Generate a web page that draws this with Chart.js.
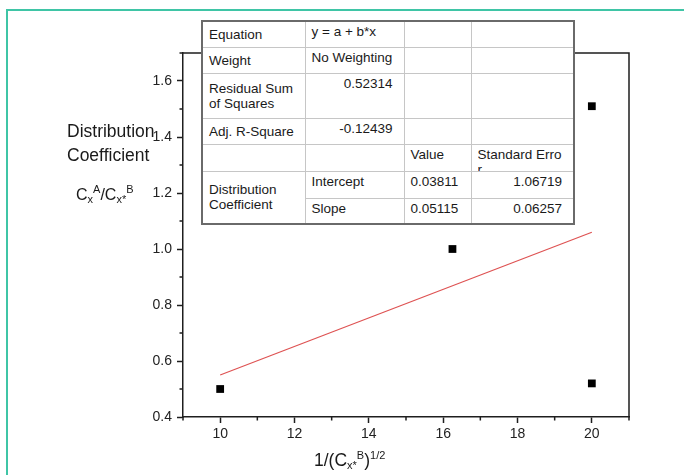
<!DOCTYPE html>
<html>
<head>
<meta charset="utf-8">
<script src="https://cdn.jsdelivr.net/npm/chart.js@4"></script>
<style>
  body { margin: 0; background: #fff; }
  #wrap { position: relative; width: 684px; height: 475px; overflow: hidden; font-family: "Liberation Sans", Arial, sans-serif; color: #1a1a1a; }
  #frame { position: absolute; left: 6px; top: 9px; right: -10px; bottom: -10px; border-left: 2px solid #3fc5a6; border-top: 2px solid #3fc5a6; }
  canvas { position: absolute; left: 0; top: 0; }
  .title { position: absolute; font-size: 17.5px; white-space: nowrap; }
  .lo { position: relative; font-size: 11px; top: 3px; }
  .hi { position: relative; font-size: 11px; top: -7px; }
  #fit { position: absolute; left: 201px; top: 20px; border-collapse: collapse; table-layout: fixed; background: #fff; font-size: 13.5px; width: 372px; }
  #fit td { border: 1px solid #c6c6c6; padding: 2px 6px 0 6px; vertical-align: top; line-height: 15px; overflow: hidden; white-space: nowrap; }
  #fit td.lab { vertical-align: middle; padding-top: 0; white-space: normal; }
  #fit td.num { text-align: right; padding-right: 11px; }
  #fit { border: 2px solid #6a6a6a; }
  .clip { height: 24px; overflow: hidden; white-space: normal; }
</style>
</head>
<body>
<div id="wrap">
  <div id="frame"></div>
  <canvas id="chart" width="684" height="475"></canvas>
  <div class="title" style="left:67px; top:119px; line-height:24px;">Distribution<br>Coefficient</div>
  <div class="title" style="left:76px; top:187px; font-size:16px; line-height:16px;">C<span class="lo">x</span><span class="hi">A</span>/C<span class="lo">x*</span><span class="hi">B</span></div>
  <div class="title" style="left:314px; top:451px; line-height:18px;">1/(C<span class="lo">x*</span><span class="hi">B</span>)<span class="hi">1/2</span></div>
  <table id="fit">
    <colgroup><col style="width:103px"><col style="width:99px"><col style="width:67px"><col style="width:103px"></colgroup>
    <tr style="height:26px"><td class="lab">Equation</td><td>y = a + b*x</td><td></td><td></td></tr>
    <tr style="height:26px"><td class="lab">Weight</td><td>No Weighting</td><td></td><td></td></tr>
    <tr style="height:45px"><td class="lab">Residual Sum of Squares</td><td class="num">0.52314</td><td></td><td></td></tr>
    <tr style="height:26px"><td class="lab">Adj. R-Square</td><td class="num">-0.12439</td><td></td><td></td></tr>
    <tr style="height:26px"><td class="lab"></td><td></td><td>Value</td><td><div class="clip">Standard Erro<br>r</div></td></tr>
    <tr style="height:27px"><td class="lab" rowspan="2">Distribution Coefficient</td><td>Intercept</td><td>0.03811</td><td class="num">1.06719</td></tr>
    <tr style="height:26px"><td>Slope</td><td>0.05115</td><td class="num">0.06257</td></tr>
  </table>
</div>
<script>
// valores medidos no grafico
const xValues = [10, 16.25, 20, 20];
const yValues = [0.50, 1.00, 0.52, 1.51];

// reta do ajuste linear (extremos)
const fitX = [10, 20];
const fitY = [0.55, 1.06];

const xMin = 9, xMax = 21;
const yMin = 0.4, yMax = 1.7;

const axisColor = '#1e1e1e';

const isMajorX = v => Math.round(v) % 2 === 0;
const isMajorY = v => Math.round(v * 10) % 2 === 0;

// moldura de cima/direita e ticks menores
const framePlugin = {
  id: 'frame',
  afterDraw(chart) {
    const { ctx, chartArea: a, scales } = chart;
    ctx.save();
    ctx.strokeStyle = axisColor;
    ctx.lineWidth = 1.5;
    ctx.beginPath();
    ctx.moveTo(a.left, a.top);
    ctx.lineTo(a.right, a.top);
    ctx.lineTo(a.right, a.bottom);
    scales.x.ticks.forEach(t => {
      if (!isMajorX(t.value)) {
        const px = scales.x.getPixelForValue(t.value);
        ctx.moveTo(px, a.bottom);
        ctx.lineTo(px, a.bottom + 3.5);
      }
    });
    scales.y.ticks.forEach(t => {
      if (!isMajorY(t.value)) {
        const py = scales.y.getPixelForValue(t.value);
        ctx.moveTo(a.left, py);
        ctx.lineTo(a.left - 3.5, py);
      }
    });
    ctx.stroke();
    ctx.restore();
  }
};

const pts = xValues.map((x, i) => ({ x: x, y: yValues[i] }));
const fitPts = fitX.map((x, i) => ({ x: x, y: fitY[i] }));

const chart = new Chart(document.getElementById('chart'), {
  type: 'scatter',
  data: {
    datasets: [
      {
        label: 'Distribution Coefficient',
        data: pts,
        pointStyle: 'rect',
        pointRadius: 5.5,
        pointBorderWidth: 0,
        backgroundColor: '#000',
        borderColor: '#000'
      },
      {
        type: 'line',
        label: 'fit',
        data: fitPts,
        borderColor: 'rgb(222, 82, 82)',
        borderWidth: 1.2,
        pointRadius: 0,
        fill: false
      }
    ]
  },
  options: {
    responsive: false,
    animation: false,
    layout: { padding: { top: 53, right: 55, left: 0, bottom: 0 } },
    plugins: { legend: { display: false }, tooltip: { enabled: false } },
    scales: {
      x: {
        type: 'linear',
        min: xMin,
        max: xMax,
        afterFit: s => { s.height = 58; },
        border: { color: axisColor, width: 1.5 },
        grid: {
          drawOnChartArea: false,
          tickLength: 6,
          tickWidth: 1.5,
          tickColor: c => (c.tick && isMajorX(c.tick.value)) ? axisColor : 'rgba(0,0,0,0)'
        },
        ticks: {
          stepSize: 1,
          autoSkip: false,
          maxRotation: 0,
          padding: 3,
          color: '#222',
          font: { family: 'Liberation Sans', size: 14 },
          callback: v => isMajorX(v) ? String(v) : ''
        }
      },
      y: {
        type: 'linear',
        min: yMin,
        max: yMax,
        afterFit: s => { s.width = 183; },
        border: { color: axisColor, width: 1.5 },
        grid: {
          drawOnChartArea: false,
          tickLength: 6,
          tickWidth: 1.5,
          tickColor: c => (c.tick && isMajorY(c.tick.value)) ? axisColor : 'rgba(0,0,0,0)'
        },
        ticks: {
          stepSize: 0.1,
          autoSkip: false,
          padding: 5,
          color: '#222',
          font: { family: 'Liberation Sans', size: 14 },
          callback: v => isMajorY(v) ? v.toFixed(1) : ''
        }
      }
    }
  },
  plugins: [framePlugin]
});
</script>
</body>
</html>
